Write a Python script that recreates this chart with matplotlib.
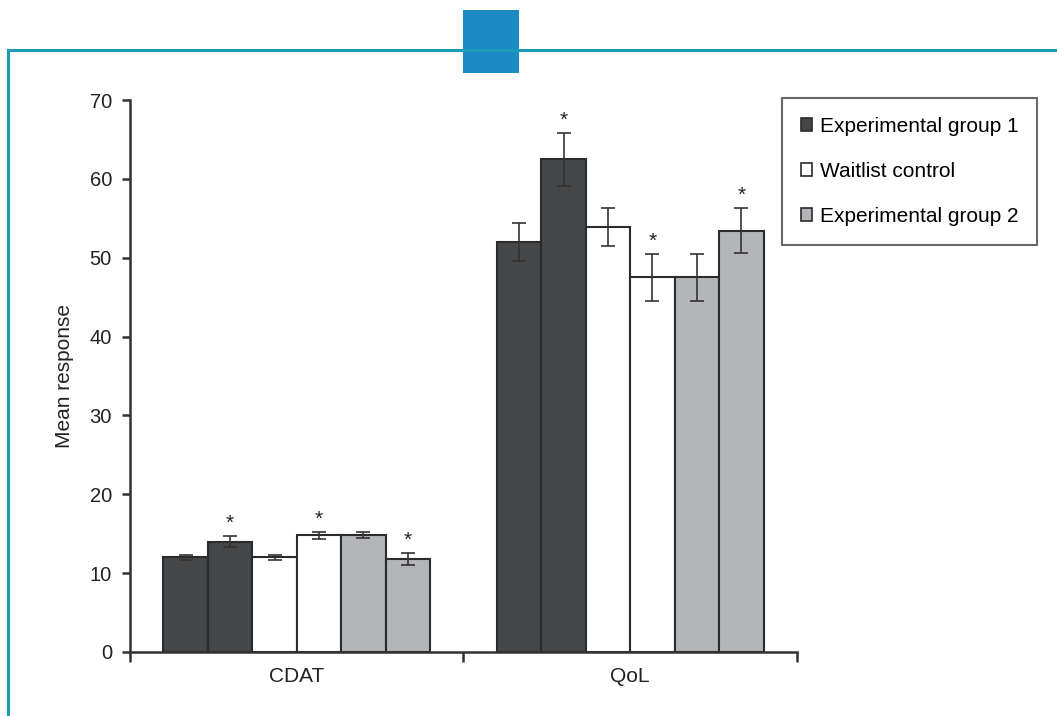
import matplotlib
matplotlib.use("Agg")
import matplotlib.pyplot as plt
from matplotlib.lines import Line2D
from matplotlib.patches import Rectangle
import numpy as np

plt.rcParams["font.family"] = ["Liberation Sans", "DejaVu Sans"]

categories = ["CDAT", "QoL"]
means = [
    [12.0, 52.0],   # experimental group 1, pre
    [14.0, 62.5],   # experimental group 1, post
    [12.0, 53.9],   # waitlist, pre
    [14.8, 47.5],   # waitlist, post
    [14.8, 47.5],   # experimental group 2, pre
    [11.8, 53.4],   # experimental group 2, post
]
errors = [
    [0.35, 2.4],
    [0.65, 3.35],
    [0.3, 2.4],
    [0.42, 2.95],
    [0.4, 2.95],
    [0.72, 2.85],
]
significant = [
    [False, False],
    [True, True],
    [False, False],
    [True, True],
    [False, False],
    [True, True],
]
legend_labels = ["Experimental group 1", "Waitlist control", "Experimental group 2"]

fills = ["#454749", "#454749", "#ffffff", "#ffffff", "#b4b5b8", "#b4b5b8"]
edge = "#2b2b2b"
text_col = "#222222"

fig = plt.figure(figsize=(10.57, 7.16), dpi=100)
ax = fig.add_axes([0.123, 0.0894, 0.631, 0.7709])

x = np.arange(len(categories))
width = 0.8 / len(means)
for i, (vals, errs) in enumerate(zip(means, errors)):
    pos = x + (i - 2.5) * width
    ax.bar(pos, vals, width=width, color=fills[i], edgecolor=edge, linewidth=1.5, zorder=2)
    ax.errorbar(pos, vals, yerr=errs, fmt="none", ecolor="#333333", elinewidth=1.2,
                capsize=5, capthick=1.2, zorder=3)
    for p, v, e, s in zip(pos, vals, errs, significant[i]):
        if s:
            ax.text(p, v + e + 0.4, "*", ha="center", va="bottom", fontsize=15, color=text_col)

ax.set_xlim(-0.5, len(categories) - 0.5)
ax.set_ylim(0, 70)
ax.set_yticks(range(0, 71, 10))
ax.set_xticks(np.arange(-0.5, len(categories), 1.0))
ax.set_xticklabels([])
ax.set_xticks(x, minor=True)
ax.set_xticklabels(categories, minor=True)
ax.tick_params(axis="x", which="major", direction="out", length=7, width=1.8, color="#333333")
ax.tick_params(axis="x", which="minor", length=0, pad=11, labelsize=15, labelcolor=text_col)
ax.tick_params(axis="y", direction="out", length=6, width=1.8, color="#333333",
               labelsize=14.5, labelcolor=text_col, pad=7)
for side in ["top", "right"]:
    ax.spines[side].set_visible(False)
for side in ["left", "bottom"]:
    ax.spines[side].set_color("#333333")
    ax.spines[side].set_linewidth(1.8)
ax.set_ylabel("Mean response", fontsize=15, color=text_col, labelpad=11)

handles = [Rectangle((0, 0), 1, 1, facecolor=fills[k], edgecolor=edge, linewidth=1.2)
           for k in (0, 2, 4)]
leg = fig.legend(handles, legend_labels, loc="upper left", bbox_to_anchor=(0.7398, 0.8631),
                 fontsize=15, frameon=True, fancybox=False, handlelength=0.55,
                 handleheight=0.55, handletextpad=0.38, labelspacing=1.25,
                 borderpad=0.9, borderaxespad=0)
leg.get_frame().set_edgecolor("#444444")
leg.get_frame().set_linewidth(1.5)

# page frame: teal rule along top and left, with the blue tab
teal = "#1a9bb8"
fig.add_artist(Line2D([8 / 1057, 1.0], [1 - 50 / 716] * 2, color=teal, linewidth=2.2))
fig.add_artist(Line2D([8 / 1057] * 2, [1 - 50 / 716, 0.0], color=teal, linewidth=2.2))
fig.add_artist(Rectangle((463 / 1057, 1 - 73 / 716), 56 / 1057, 63 / 716,
                         transform=fig.transFigure, facecolor="#1c8ac2", edgecolor="none"))

fig.savefig("out.png", dpi=100)
